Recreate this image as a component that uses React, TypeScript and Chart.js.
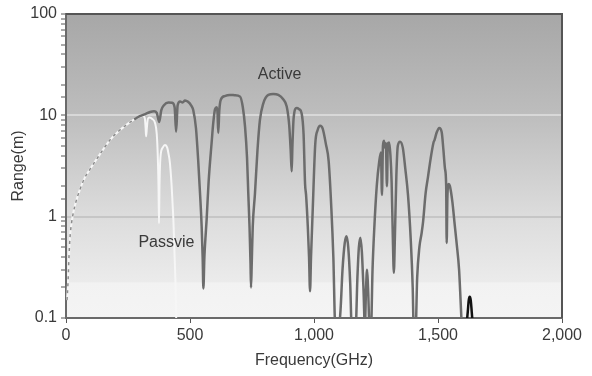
import React, { useEffect, useRef } from 'react';
import { Chart, registerables } from 'chart.js';

Chart.register(...registerables);

// Frequency (GHz) / Range (m)
const activeFreq = [4, 8, 12, 16, 22, 29, 40, 56, 75, 97, 130, 177, 210, 245, 275, 298, 320, 339, 355, 366, 376, 384, 395, 413, 428, 438, 444, 450, 460, 470, 480, 492, 505, 513, 524, 533, 541, 547, 551, 554, 558, 562, 567, 575, 587, 594, 601, 608, 611, 614, 618, 624, 640, 661, 680, 702, 713, 722, 730, 735, 740, 744, 746, 749, 753, 762, 772, 782, 795, 816, 836, 856, 875, 890, 900, 906, 910, 913, 918, 930, 940, 950, 958, 964, 968, 975, 980, 984, 988, 995, 1005, 1015, 1025, 1035, 1048, 1059, 1070, 1078, 1086, 1100, 1107, 1115, 1124, 1131, 1138, 1146, 1152, 1168, 1175, 1181, 1187, 1193, 1200, 1205, 1210, 1214, 1218, 1224, 1230, 1236, 1243, 1253, 1263, 1270, 1274, 1278, 1282, 1286, 1290, 1294, 1298, 1303, 1308, 1313, 1318, 1322, 1326, 1332, 1338, 1347, 1358, 1368, 1379, 1390, 1398, 1402, 1410, 1416, 1425, 1434, 1440, 1450, 1460, 1470, 1482, 1486, 1495, 1505, 1515, 1522, 1528, 1533, 1535, 1538, 1543, 1548, 1558, 1566, 1575, 1585, 1591, 1596];
const activeRange = [0.15, 0.22, 0.4, 0.62, 0.85, 1.08, 1.4, 1.85, 2.4, 2.95, 3.9, 5.7, 6.9, 8.1, 9.1, 9.8, 10.3, 10.8, 11.0, 10.6, 8.6, 11.2, 12.6, 13.4, 13.3, 12.0, 6.9, 12.5, 13.7, 13.4, 14.0, 13.6, 12.5, 11.3, 7.5, 3.6, 1.6, 0.8, 0.4, 0.196, 0.4, 0.6, 0.93, 2.2, 5.3, 8.5, 11.5, 12.0, 10.5, 6.7, 11.0, 14.2, 15.5, 15.9, 15.8, 15.3, 12.0, 7.7, 3.8, 1.7, 0.8, 0.35, 0.2, 0.35, 0.8, 1.7, 4.5, 9.0, 13.0, 15.9, 16.2, 15.9, 14.5, 12.2, 8.0, 4.5, 2.8, 5.0, 9.5, 11.8, 11.5, 10.5, 6.5, 2.1, 1.64, 0.8, 0.4, 0.184, 0.4, 1.2, 5.2, 7.2, 7.9, 7.4, 5.2, 3.55, 1.2, 0.4, 0.08, 0.08, 0.12, 0.3, 0.55, 0.64, 0.5, 0.22, 0.08, 0.08, 0.25, 0.5, 0.62, 0.45, 0.18, 0.08, 0.2, 0.3, 0.2, 0.08, 0.08, 0.3, 0.76, 2.0, 3.5, 4.3, 1.64, 5.0, 5.6, 4.8, 5.3, 2.0, 5.3, 5.4, 4.1, 2.2, 0.6, 0.28, 0.6, 2.5, 5.0, 5.5, 4.8, 3.0, 1.64, 0.6, 0.2, 0.08, 0.08, 0.25, 0.5, 0.69, 0.9, 1.7, 2.5, 3.7, 5.4, 5.7, 6.8, 7.5, 6.8, 4.5, 3.0, 2.0, 0.55, 1.6, 2.1, 2.0, 1.4, 0.9, 0.55, 0.3, 0.15, 0.08];

const passiveFreq = [4, 8, 12, 16, 22, 29, 40, 56, 75, 97, 130, 177, 210, 245, 275, 298, 310, 318, 321, 323, 326, 330, 336, 348, 359, 366, 370, 373, 375, 377, 381, 390, 399, 408, 414, 419, 426, 430, 433, 438, 442, 445];
const passiveRange = [0.15, 0.22, 0.4, 0.62, 0.85, 1.08, 1.4, 1.85, 2.4, 2.95, 3.9, 5.7, 6.9, 8.1, 9.1, 9.7, 9.9, 9.3, 7.5, 6.2, 7.5, 9.2, 9.5, 9.2, 8.4, 6.5, 4.0, 2.0, 0.86, 2.0, 3.9, 4.8, 5.1, 4.8, 4.1, 3.4, 2.0, 1.3, 0.93, 0.4, 0.2, 0.08];

const spikeFreq = [1614, 1620, 1624, 1628, 1632, 1636, 1641];
const spikeRange = [0.08, 0.115, 0.15, 0.162, 0.15, 0.115, 0.08];

const xTickValues = [0, 500, 1000, 1500, 2000];
const yTickValues = [0.1, 1, 10, 100];

const sharedUntil = 280; // active and passive curves coincide below this frequency

const activeLabel = { text: 'Active', f: 861, r: 25 };
const passiveLabel = { text: 'Passvie', f: 405, r: 0.55 };

const FONT = '"Liberation Sans", Arial, sans-serif';
const TEXT = '#3a3a3a';

const isDecade = (v: number) => Math.abs(Math.log10(v) - Math.round(Math.log10(v))) < 1e-9;

export default function App() {
  const ref = useRef<HTMLCanvasElement | null>(null);

  useEffect(() => {
    document.body.style.margin = '0';
    const canvas = ref.current;
    if (!canvas) return;

    const bgPlugin = {
      id: 'bg',
      beforeDraw(chart: any) {
        const { ctx, chartArea: a } = chart;
        const g = ctx.createLinearGradient(0, a.top, 0, a.bottom);
        g.addColorStop(0, '#a7a7a7');
        g.addColorStop(0.33, '#bdbdbd');
        g.addColorStop(0.66, '#dcdcdc');
        g.addColorStop(0.88, '#ebebeb');
        g.addColorStop(0.885, '#f2f2f2');
        g.addColorStop(1, '#f4f4f4');
        ctx.save();
        ctx.fillStyle = g;
        ctx.fillRect(a.left, a.top, a.right - a.left, a.bottom - a.top);
        ctx.restore();
      },
    };

    const framePlugin = {
      id: 'frame',
      afterDatasetsDraw(chart: any) {
        const { ctx, chartArea: a, scales } = chart;
        ctx.save();
        ctx.strokeStyle = '#555555';
        ctx.lineWidth = 2;
        ctx.beginPath();
        ctx.moveTo(a.left, a.top);
        ctx.lineTo(a.right, a.top);
        ctx.lineTo(a.right, a.bottom);
        ctx.stroke();
        ctx.font = `16px ${FONT}`;
        ctx.fillStyle = TEXT;
        ctx.textAlign = 'center';
        ctx.textBaseline = 'middle';
        for (const l of [activeLabel, passiveLabel]) {
          ctx.fillText(l.text, scales.x.getPixelForValue(l.f), scales.y.getPixelForValue(l.r));
        }
        ctx.restore();
      },
    };

    const inShared = (c: any) => c.p1.parsed.x <= sharedUntil;

    const chart = new Chart(canvas, {
      type: 'line',
      data: {
        datasets: [
          {
            label: 'Active',
            data: activeFreq.map((f, i) => ({ x: f, y: activeRange[i] })),
            borderColor: '#6c6c6c',
            borderWidth: 2.5,
            pointRadius: 0,
            cubicInterpolationMode: 'monotone',
            segment: {
              borderDash: (c: any) => (inShared(c) ? [3, 4] : undefined),
              borderColor: (c: any) => (inShared(c) ? '#8c8c8c' : undefined),
              borderWidth: (c: any) => (inShared(c) ? 1.5 : undefined),
            },
            order: 0,
          },
          {
            label: 'Spike',
            data: spikeFreq.map((f, i) => ({ x: f, y: spikeRange[i] })),
            borderColor: '#111111',
            borderWidth: 2.5,
            pointRadius: 0,
            cubicInterpolationMode: 'monotone',
            order: 0,
          },
          {
            label: 'Passive',
            data: passiveFreq.map((f, i) => ({ x: f, y: passiveRange[i] })),
            borderColor: '#f6f6f6',
            borderWidth: 2,
            pointRadius: 0,
            cubicInterpolationMode: 'monotone',
            order: 1,
          },
        ],
      },
      options: {
        animation: false,
        responsive: false,
        devicePixelRatio: 1,
        layout: { padding: { top: 14, right: 30, left: 0, bottom: 0 } },
        plugins: { legend: { display: false }, tooltip: { enabled: false } },
        scales: {
          x: {
            type: 'linear',
            min: 0,
            max: 2000,
            afterFit: (s: any) => { s.height = 58; },
            afterBuildTicks: (s: any) => { s.ticks = xTickValues.map((v) => ({ value: v })); },
            ticks: {
              color: TEXT,
              font: { family: FONT, size: 16 },
              padding: 3,
              maxRotation: 0,
              callback: (v: any) => Number(v).toLocaleString('en-US'),
            },
            grid: { drawOnChartArea: false, tickLength: 5, tickColor: '#555555', tickWidth: 1 },
            border: { color: '#6a6a6a', width: 2 },
            title: {
              display: true,
              text: 'Frequency(GHz)',
              color: TEXT,
              font: { family: FONT, size: 16 },
              padding: { top: 0, bottom: 6 },
            },
          },
          y: {
            type: 'logarithmic',
            min: 0.1,
            max: 100,
            afterFit: (s: any) => { s.width = 66; },
            ticks: {
              autoSkip: false,
              color: TEXT,
              font: { family: FONT, size: 16 },
              padding: 4,
              callback: (v: any) => {
                const n = Number(v);
                if (!isDecade(n)) return '';
                const hit = yTickValues.find((t) => Math.abs(t - n) < 1e-9);
                return hit !== undefined ? String(hit) : '';
              },
            },
            grid: {
              drawOnChartArea: true,
              tickLength: 5,
              tickColor: '#555555',
              tickWidth: 1,
              lineWidth: (c: any) => (c.tick && (Math.abs(c.tick.value - 10) < 1e-9 || Math.abs(c.tick.value - 1) < 1e-9) ? 2 : 0),
              color: (c: any) => {
                const v = c.tick ? c.tick.value : 0;
                if (Math.abs(v - 10) < 1e-9) return '#d8d8d8';
                if (Math.abs(v - 1) < 1e-9) return '#c6c6c6';
                return 'rgba(0,0,0,0)';
              },
            },
            border: { color: '#6a6a6a', width: 2 },
            title: {
              display: true,
              text: 'Range(m)',
              color: TEXT,
              font: { family: FONT, size: 16 },
              padding: { top: 9, bottom: 0 },
            },
          },
        },
      },
      plugins: [bgPlugin, framePlugin],
    } as any);

    return () => chart.destroy();
  }, []);

  return (
    <div style={{ position: 'absolute', left: 0, top: 0, width: 592, height: 376, background: '#ffffff' }}>
      <canvas ref={ref} width={592} height={376} style={{ width: 592, height: 376, display: 'block' }} />
    </div>
  );
}
